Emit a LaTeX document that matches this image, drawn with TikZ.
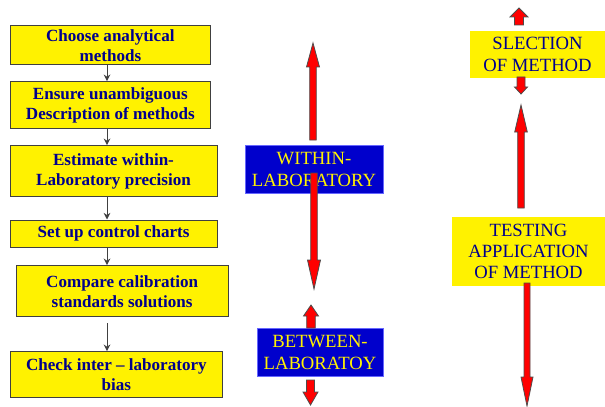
\documentclass[tikz,border=0pt]{standalone}
\usepackage{fontspec}
\setmainfont{LiberationSerif}[Extension=.ttf, UprightFont=*-Regular, BoldFont=*-Bold, Ligatures=TeX]
\usetikzlibrary{arrows.meta}
\definecolor{navy}{RGB}{0,0,140}
\definecolor{boxblue}{RGB}{0,0,204}
\definecolor{arrred}{RGB}{255,0,0}
\newcommand{\varrow}[6]{%
  \filldraw[redarr] ({#1-#5},#2) -- ({#1-#5},#3) -- ({#1-#6},#3) -- (#1,#4) -- ({#1+#6},#3) -- ({#1+#5},#3) -- ({#1+#5},#2) -- cycle;}
\tikzset{
  lbox/.style={draw=black!75, line width=0.75pt, fill=yellow, text=navy, align=center, inner sep=0pt,
    font=\bfseries\fontsize{12.8}{15}\selectfont},
  bbox/.style={draw=blue!60, line width=0.5pt, fill=boxblue, text=yellow, align=center, inner sep=0pt,
    font=\fontsize{14}{16.5}\selectfont},
  ybox/.style={fill=yellow, text=navy, align=center, inner sep=0pt,
    font=\fontsize{14}{16}\selectfont},
  conn/.style={draw=black!75, line width=0.75pt, -{Stealth[length=5pt,width=5pt]}},
  redarr/.style={fill=arrred, draw=black!70, line width=0.6pt, line join=miter}
}
\begin{document}
\begin{tikzpicture}[x=0.75pt,y=-0.75pt]
\useasboundingbox (0,0) rectangle (605,406);
% left flow
\node[lbox, minimum width=200.7*0.75pt, minimum height=39*0.75pt] (b1) at (110.35,45.5) {Choose analytical\\methods};
\node[lbox, minimum width=200.7*0.75pt, minimum height=46.6*0.75pt] (b2) at (110.35,105) {Ensure unambiguous\\Description of methods};
\node[lbox, minimum width=207*0.75pt, minimum height=51*0.75pt] (b3) at (113.5,171.2) {Estimate within-\\Laboratory precision};
\node[lbox, minimum width=207.3*0.75pt, minimum height=27.7*0.75pt] (b4) at (113.65,233.85) {Set up control charts};
\node[lbox, minimum width=212.3*0.75pt, minimum height=51*0.75pt] (b5) at (122.15,291.2) {Compare calibration\\standards solutions};
\node[lbox, minimum width=212.7*0.75pt, minimum height=45.6*0.75pt] (b6) at (116.35,374.5) {Check inter -- laboratory\\bias};
\coordinate (ax) at (107,0);
\draw[conn] (b1.south -| ax) -- (b2.north -| ax);
\draw[conn] (b2.south -| ax) -- (b3.north -| ax);
\draw[conn] (b3.south -| ax) -- (b4.north -| ax);
\draw[conn] (b4.south -| ax) -- (b5.north -| ax);
\draw[conn, shorten <=6*0.75pt] (b5.south -| ax) -- (b6.north -| ax);
% middle column
\node[bbox, minimum width=138*0.75pt, minimum height=48*0.75pt] (w) at (314,169) {WITHIN-\\LABORATORY};
\node[bbox, minimum width=126*0.75pt, minimum height=48*0.75pt] (bt) at (320,352) {BETWEEN-\\LABORATOY};
\varrow{313}{140}{67}{43}{3.3}{6.5}
\varrow{314}{173}{260}{289}{3.3}{6.5}
\varrow{311}{328}{316}{305}{4.3}{7.5}
\varrow{310.5}{380}{392}{405}{4}{7.5}
% right column
\node[ybox, minimum width=135*0.75pt, minimum height=47*0.75pt] (s) at (537.5,54.5) {SLECTION\\OF METHOD};
\node[ybox, minimum width=153*0.75pt, minimum height=69*0.75pt] (t) at (528.5,251.5) {TESTING\\APPLICATION\\OF METHOD};
\varrow{519}{25}{17}{8}{4.5}{9}
\varrow{521}{77}{87}{94}{4}{6.5}
\varrow{521}{208}{132}{105}{3.3}{6.3}
\varrow{527}{283}{377}{406}{3}{6}
\end{tikzpicture}
\end{document}
